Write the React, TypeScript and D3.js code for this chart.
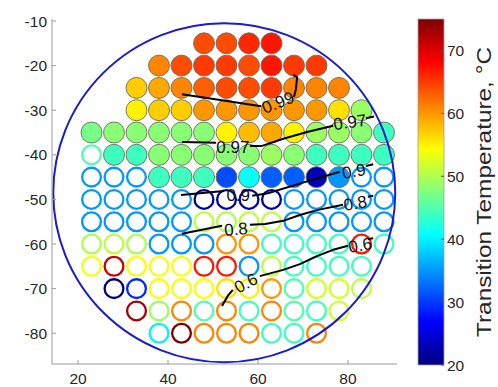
import { useEffect, useRef } from 'react';
import * as d3 from 'd3';

// die grid (mm)
const colX = [23, 28, 33, 38, 43, 48, 53, 58, 63, 68, 73, 78, 83, 88];
const rowY = [-15, -20, -25, -30, -35, -40, -45, -50, -55, -60, -65, -70, -75, -80];

const N = null;
// transition temperature per die, null = no die
const tempGrid = [
  [N, N, N, N, N, 64, 64, 66, 67, N, N, N, N, N],
  [N, N, N, 61, 64, 65, 65, 64, 67, 65, 65, N, N, N],
  [N, N, 57, 59, 61, 63, 64, 64, 65, 61, 61, 61, N, N],
  [N, N, 55, 57, 57, 60, 60, 60, 60, 60, 60, 56, 49, N],
  [47, 48, 48, 48, 48, 48, 55, 58, 59, 55, 49, 49, 48, 44],
  [45, 44, 44, 48, 48, 48, 48, 48, 49, 48, 44, 44, 44, 44],
  [35, 35, 35, 44, 44, 44, 31, 41, 32, 32, 23, 35, 35, 35],
  [35, 35, 35, 35, 35, 22, 22, 22, 22, 35, 35, 35, 35, 35],
  [35, 35, 35, 35, 35, 51, 50, 51, 51, 35, 35, 35, 35, 35],
  [50, 51, 50, 35, 35, 35, 60, 60, 44, 44, 44, 44, 67, 44],
  [54, 71, 54, 54, 54, 67, 67, 35, 51, 44, 44, 44, 44, N],
  [N, 20, 29, 54, 54, 54, 56, 55, 60, 45, 52, 52, 51, N],
  [N, N, 73, 49, 61, 45, 61, 44, 61, 45, 44, 52, N, N],
  [N, N, N, 40, 75, 61, 61, 61, 44, 44, 61, N, N, N],
];

// F = measured (filled marker), o = open marker
const filledGrid = [
  '.....FFFF.....',
  '...FFFFFFFF...',
  '..FFFFFFFFFF..',
  '..FFFFFFFFFFF.',
  'FFFFFFFFFFFFFF',
  'oFFFFFFFFFFFFF',
  'oooFFFFFFFFFoo',
  'oooooooooooooo',
  'oooooooooooooo',
  'oooooooooooooo',
  'ooooooooooooo.',
  '.oooooooooooo.',
  '..oooooooooo..',
  '...oooooooo...',
];

const waferCenter = [52.5, -48.5];
const waferRadius = 38;
const dieRadius = 2.33;

const xTicks = [20, 40, 60, 80];
const yTicks = [-10, -20, -30, -40, -50, -60, -70, -80];
const cTicks = [20, 30, 40, 50, 60, 70];
const cDomain = [20, 75];

// contour lines: pieces between inline labels
const contours = [
  {
    pieces: [
      [[43.1, -26.4], [51.6, -27.7], [60.7, -29.1]],
      [[68.0, -27.0], [68.4, -25.4], [68.7, -22.6], [67.8, -22.1]],
    ],
    labels: [{ text: '0.99', at: [64.4, -28.2], angle: -22 }],
  },
  {
    pieces: [
      [[43.1, -37.1], [50.7, -37.3]],
      [[58.2, -38.0], [60.9, -38.0], [65.6, -36.4], [70.9, -34.9], [76.7, -33.5]],
      [[84.0, -31.8], [85.8, -31.4]],
    ],
    labels: [
      { text: '0.97', at: [54.4, -38.3], angle: 0 },
      { text: '0.97', at: [80.4, -32.6], angle: -8 },
    ],
  },
  {
    pieces: [
      [[42.9, -49.0], [52.4, -48.1]],
      [[58.7, -49.2], [62.2, -48.6], [69.8, -46.3], [78.2, -43.8]],
      [[84.0, -42.5], [85.6, -42.1]],
    ],
    labels: [
      { text: '0.9', at: [55.6, -49.0], angle: 0 },
      { text: '0.9', at: [81.3, -43.6], angle: -10 },
    ],
  },
  {
    pieces: [
      [[43.1, -57.7], [52.0, -55.9]],
      [[58.2, -55.7], [61.6, -55.5], [65.6, -54.8], [69.3, -53.5], [73.1, -52.4], [78.9, -51.2]],
      [[84.4, -49.4], [85.6, -49.2]],
    ],
    labels: [
      { text: '0.8', at: [55.1, -56.6], angle: -5 },
      { text: '0.8', at: [81.6, -50.8], angle: -10 },
    ],
  },
  {
    pieces: [
      [[52.0, -73.9], [53.3, -71.6], [54.4, -70.3]],
      [[60.4, -67.2], [65.6, -65.8], [69.3, -64.5], [73.1, -62.7], [76.7, -61.3], [80.0, -60.4]],
      [[84.4, -58.9], [85.6, -58.7]],
    ],
    labels: [
      { text: '0.6', at: [57.3, -68.7], angle: -28 },
      { text: '0.6', at: [82.7, -60.2], angle: -10 },
    ],
  },
];

// MATLAB jet
const jet = (t) => {
  const c = (v) => Math.max(0, Math.min(1, v));
  const r = c(1.5 - Math.abs(4 * t - 3));
  const g = c(1.5 - Math.abs(4 * t - 2));
  const b = c(1.5 - Math.abs(4 * t - 1));
  return d3.rgb(r * 255, g * 255, b * 255).formatHex();
};

const FONT = 'Liberation Sans, Arial, Helvetica, sans-serif';

const App = () => {
  const svgRef = useRef(null);

  useEffect(() => {
    const width = 498;
    const height = 387;

    const x = d3.scaleLinear().domain([14.22, 90.89]).range([52, 397]);
    const y = d3.scaleLinear().domain([-86.9, -9.55]).range([364, 19]);
    const t = d3.scaleLinear().domain(cDomain).range([0, 1]);
    const cy = d3.scaleLinear().domain(cDomain).range([365, 19]);
    const color = (v) => jet(t(v));

    const svg = d3.select(svgRef.current).attr('viewBox', [0, 0, width, height]);
    svg.selectAll('*').remove();

    // dies
    const dies = [];
    rowY.forEach((ry, i) => {
      colX.forEach((cx, j) => {
        const v = tempGrid[i][j];
        if (v == null) return;
        dies.push({ x: cx, y: ry, v, filled: filledGrid[i][j] === 'F' });
      });
    });
    const rPx = x(colX[0] + dieRadius) - x(colX[0]);

    svg
      .append('g')
      .selectAll('circle')
      .data(dies)
      .join('circle')
      .attr('cx', (d) => x(d.x))
      .attr('cy', (d) => y(d.y))
      .attr('r', (d) => (d.filled ? rPx : rPx - 1.1))
      .attr('fill', (d) => (d.filled ? color(d.v) : 'none'))
      .attr('stroke', (d) => (d.filled ? '#6a6a5a' : color(d.v)))
      .attr('stroke-width', (d) => (d.filled ? 0.9 : 2.3));

    // wafer outline
    svg
      .append('ellipse')
      .attr('cx', x(waferCenter[0]))
      .attr('cy', y(waferCenter[1]))
      .attr('rx', x(waferCenter[0] + waferRadius) - x(waferCenter[0]))
      .attr('ry', y(waferCenter[1]) - y(waferCenter[1] + waferRadius))
      .attr('fill', 'none')
      .attr('stroke', '#1a1ad0')
      .attr('stroke-width', 2);

    // contours
    const line = d3
      .line()
      .x((d) => x(d[0]))
      .y((d) => y(d[1]));
    const cg = svg.append('g');
    contours.forEach((c) => {
      c.pieces.forEach((p) => {
        cg.append('path')
          .attr('d', line(p))
          .attr('fill', 'none')
          .attr('stroke', '#000')
          .attr('stroke-width', 2)
          .attr('stroke-linejoin', 'round');
      });
      c.labels.forEach((l) => {
        cg.append('text')
          .attr('transform', `translate(${x(l.at[0])},${y(l.at[1])}) rotate(${l.angle})`)
          .attr('text-anchor', 'middle')
          .attr('dy', '0.36em')
          .attr('font-family', FONT)
          .attr('font-size', 17)
          .attr('fill', '#111')
          .text(l.text);
      });
    });

    // axes (left + bottom only)
    const axisColor = '#9a9a9a';
    const ax = svg.append('g');
    ax.append('line')
      .attr('x1', 52).attr('x2', 52).attr('y1', 19).attr('y2', 364)
      .attr('stroke', axisColor).attr('stroke-width', 1);
    ax.append('line')
      .attr('x1', 52).attr('x2', 397).attr('y1', 364).attr('y2', 364)
      .attr('stroke', axisColor).attr('stroke-width', 1);

    yTicks.forEach((v) => {
      ax.append('line')
        .attr('x1', 52).attr('x2', 56).attr('y1', y(v)).attr('y2', y(v))
        .attr('stroke', axisColor);
      ax.append('text')
        .attr('x', 47)
        .attr('y', y(v))
        .attr('dy', '0.36em')
        .attr('text-anchor', 'end')
        .attr('font-family', FONT)
        .attr('font-size', 15.5)
        .attr('fill', '#262626')
        .text(v);
    });
    xTicks.forEach((v) => {
      ax.append('line')
        .attr('x1', x(v)).attr('x2', x(v)).attr('y1', 364).attr('y2', 360)
        .attr('stroke', axisColor);
      ax.append('text')
        .attr('x', x(v))
        .attr('y', 384)
        .attr('text-anchor', 'middle')
        .attr('font-family', FONT)
        .attr('font-size', 15.5)
        .attr('fill', '#262626')
        .text(v);
    });

    // colorbar
    const grad = svg
      .append('defs')
      .append('linearGradient')
      .attr('id', 'jetgrad')
      .attr('x1', 0).attr('y1', 1).attr('x2', 0).attr('y2', 0);
    d3.range(0, 17).forEach((i) => {
      grad.append('stop')
        .attr('offset', i / 16)
        .attr('stop-color', jet(i / 16));
    });
    const cbx = 418;
    const cbw = 26;
    svg.append('rect')
      .attr('x', cbx).attr('y', cy(cDomain[1])).attr('width', cbw)
      .attr('height', cy(cDomain[0]) - cy(cDomain[1]))
      .attr('fill', 'url(#jetgrad)')
      .attr('stroke', '#a0a0a0').attr('stroke-width', 0.8);
    cTicks.forEach((v) => {
      svg.append('line')
        .attr('x1', cbx + cbw - 3).attr('x2', cbx + cbw).attr('y1', cy(v)).attr('y2', cy(v))
        .attr('stroke', '#555');
      svg.append('text')
        .attr('x', 447)
        .attr('y', cy(v))
        .attr('dy', '0.36em')
        .attr('font-family', FONT)
        .attr('font-size', 15.5)
        .attr('fill', '#262626')
        .text(v);
    });
    svg.append('text')
      .attr('transform', `translate(491,${(cy(cDomain[0]) + cy(cDomain[1])) / 2}) rotate(-90)`)
      .attr('text-anchor', 'middle')
      .attr('font-family', FONT)
      .attr('font-size', 20)
      .attr('textLength', 290)
      .attr('lengthAdjust', 'spacingAndGlyphs')
      .attr('fill', '#262626')
      .text('Transition Temperature, °C');
  }, []);

  return (
    <svg
      ref={svgRef}
      width={498}
      height={387}
      style={{ position: 'absolute', left: 0, top: 0, background: '#fff' }}
    ></svg>
  );
};

export default App;
